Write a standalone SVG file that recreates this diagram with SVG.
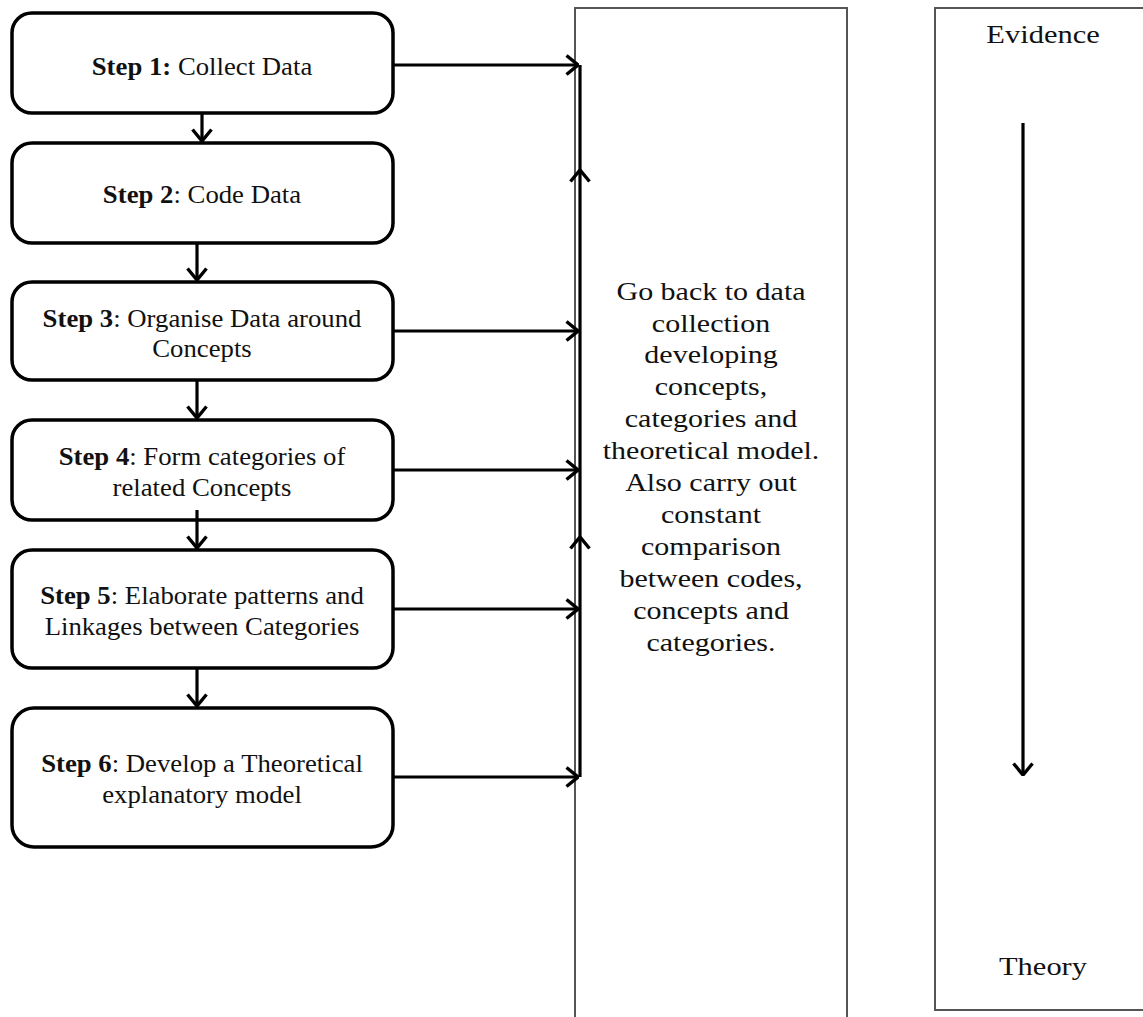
<svg xmlns="http://www.w3.org/2000/svg" width="1143" height="1017" viewBox="0 0 1143 1017">
<style>
.box{fill:#fff;stroke:#000;stroke-width:3.5}
.panel{fill:none;stroke:#555;stroke-width:2}
.t{font-family:"Liberation Serif","Times New Roman",serif;font-size:25px;fill:#111;text-anchor:middle}
.b{font-weight:bold}
.c{fill:none;stroke:#000;stroke-width:3.2}
</style>
<defs>
<marker id="ah" viewBox="0 0 14 22" refX="13" refY="11" markerWidth="14" markerHeight="22" markerUnits="userSpaceOnUse" orient="auto">
<path d="M1.5,1.5 L13,11 L1.5,20.5" fill="none" stroke="#000" stroke-width="3.4"/>
</marker>
</defs>
<rect x="0" y="0" width="1143" height="1017" fill="#fff"/>

<g id="panel-middle">
<path class="panel" d="M575,1020 V8 H847 V1020"/>
<g transform="translate(711,0) scale(1.2,1)">
<text class="t"><tspan x="0" y="300">Go back to data</tspan><tspan x="0" y="332">collection</tspan><tspan x="0" y="363">developing</tspan><tspan x="0" y="395">concepts,</tspan><tspan x="0" y="427">categories and</tspan><tspan x="0" y="459">theoretical model.</tspan><tspan x="0" y="491">Also carry out</tspan><tspan x="0" y="523">constant</tspan><tspan x="0" y="555">comparison</tspan><tspan x="0" y="587">between codes,</tspan><tspan x="0" y="619">concepts and</tspan><tspan x="0" y="651">categories.</tspan></text>
</g>
</g>

<g id="panel-right">
<path class="panel" d="M1145,8 H935 V1010 H1145"/>
<g transform="translate(1043,0) scale(1.22,1)"><text class="t" x="0" y="43">Evidence</text></g>
<g transform="translate(1043,0) scale(1.22,1)"><text class="t" x="0" y="975">Theory</text></g>
<path class="c" d="M1023,123 V775" marker-end="url(#ah)"/>
</g>

<g id="step1">
<rect class="box" x="12" y="13" width="381" height="100" rx="20"/>
<g transform="translate(202,0) scale(1.07,1)"><text class="t" x="0" y="75"><tspan class="b">Step 1:</tspan> Collect Data</text></g>
</g>
<g id="step2">
<rect class="box" x="12" y="143" width="381" height="100" rx="20"/>
<g transform="translate(202,0) scale(1.07,1)"><text class="t" x="0" y="203"><tspan class="b">Step 2</tspan>: Code Data</text></g>
</g>
<g id="step3">
<rect class="box" x="12" y="282" width="381" height="98" rx="20"/>
<g transform="translate(202,0) scale(1.07,1)"><text class="t"><tspan x="0" y="327"><tspan class="b">Step 3</tspan>: Organise Data around</tspan><tspan x="0" y="357">Concepts</tspan></text></g>
</g>
<g id="step4">
<rect class="box" x="12" y="420" width="381" height="100" rx="20"/>
<g transform="translate(202,0) scale(1.07,1)"><text class="t"><tspan x="0" y="465"><tspan class="b">Step 4</tspan>: Form categories of</tspan><tspan x="0" y="496">related Concepts</tspan></text></g>
</g>
<g id="step5">
<rect class="box" x="12" y="550" width="381" height="118" rx="20"/>
<g transform="translate(202,0) scale(1.07,1)"><text class="t"><tspan x="0" y="604"><tspan class="b">Step 5</tspan>: Elaborate patterns and</tspan><tspan x="0" y="635">Linkages between Categories</tspan></text></g>
</g>
<g id="step6">
<rect class="box" x="12" y="708" width="381" height="139" rx="22"/>
<g transform="translate(202,0) scale(1.07,1)"><text class="t"><tspan x="0" y="772"><tspan class="b">Step 6</tspan>: Develop a Theoretical</tspan><tspan x="0" y="803">explanatory model</tspan></text></g>
</g>

<g id="connectors">
<path class="c" d="M202,113 V141" marker-end="url(#ah)"/>
<path class="c" d="M197,243 V280" marker-end="url(#ah)"/>
<path class="c" d="M197,380 V418" marker-end="url(#ah)"/>
<path class="c" d="M197,510 V548" marker-end="url(#ah)"/>
<path class="c" d="M197,668 V706" marker-end="url(#ah)"/>
<path class="c" d="M393,65 H578" marker-end="url(#ah)"/>
<path class="c" d="M393,331 H578" marker-end="url(#ah)"/>
<path class="c" d="M393,470 H578" marker-end="url(#ah)"/>
<path class="c" d="M393,609 H578" marker-end="url(#ah)"/>
<path class="c" d="M393,777 H578" marker-end="url(#ah)"/>
<path class="c" d="M580,777 V537" stroke-width="3.8" marker-end="url(#ah)"/>
<path class="c" d="M580,537 V170" stroke-width="3.8" marker-end="url(#ah)"/>
<path class="c" d="M580,170 V65" stroke-width="3.8"/>
</g>
</svg>
